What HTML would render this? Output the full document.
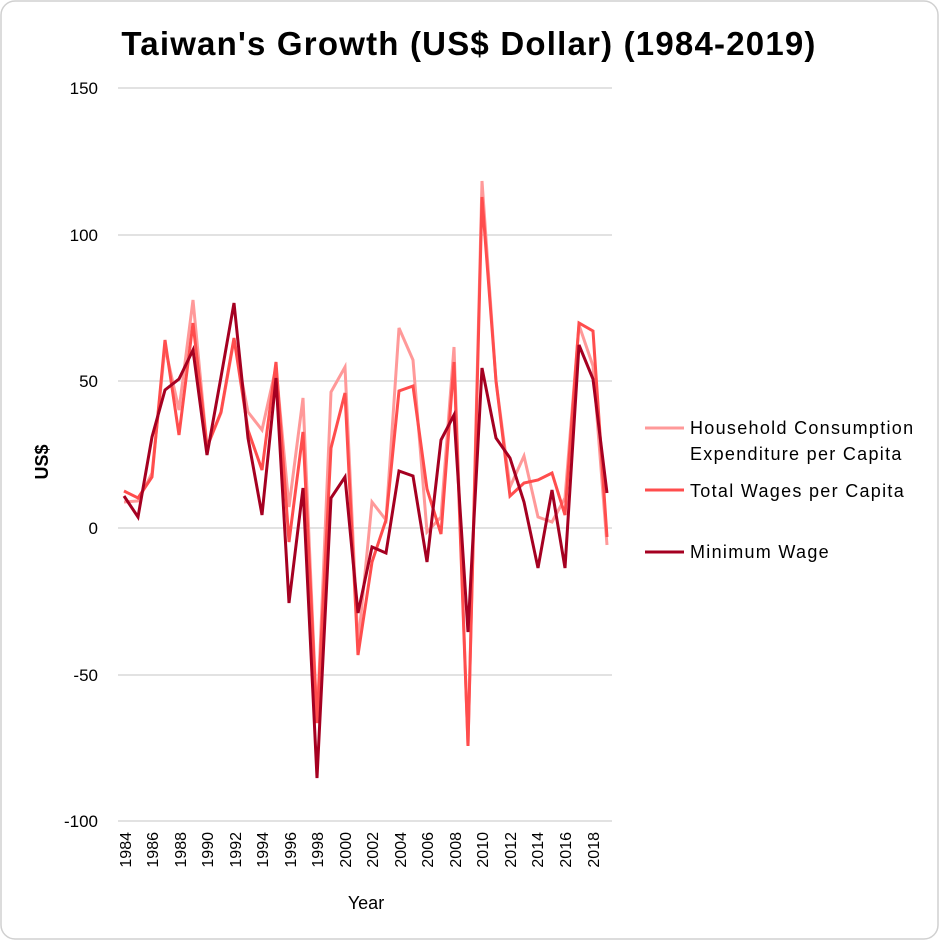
<!DOCTYPE html>
<html><head><meta charset="utf-8"><style>
body{margin:0;background:#fff;}
svg{display:block;font-family:"Liberation Sans",sans-serif;}
</style></head><body>
<svg width="939" height="940" viewBox="0 0 939 940" xmlns="http://www.w3.org/2000/svg">
<rect x="1" y="1" width="937" height="938" rx="14" fill="#fff" stroke="#d0d0d0" stroke-width="1.5"/>
<text x="469" y="55" text-anchor="middle" font-size="33" font-weight="bold" fill="#000" letter-spacing="1.2">Taiwan's Growth (US$ Dollar) (1984-2019)</text>
<g stroke="#d9d9d9" stroke-width="1.5">
<line x1="118" y1="88" x2="612" y2="88"/><line x1="118" y1="235" x2="612" y2="235"/>
<line x1="118" y1="381" x2="612" y2="381"/><line x1="118" y1="528" x2="612" y2="528"/>
<line x1="118" y1="675" x2="612" y2="675"/><line x1="118" y1="821" x2="612" y2="821"/>
</g>
<g font-size="17" text-anchor="end" fill="#000">
<text x="98" y="94">150</text><text x="98" y="241">100</text><text x="98" y="387">50</text>
<text x="98" y="534">0</text><text x="98" y="681">-50</text><text x="98" y="827">-100</text>
</g>
<text transform="translate(48,462) rotate(-90)" font-size="18" font-weight="bold" text-anchor="middle">US$</text>
<text x="366" y="909" font-size="18" text-anchor="middle">Year</text>
<g font-size="16" text-anchor="end">
<text transform="translate(131,832) rotate(-90)">1984</text>
<text transform="translate(158,832) rotate(-90)">1986</text>
<text transform="translate(186,832) rotate(-90)">1988</text>
<text transform="translate(213,832) rotate(-90)">1990</text>
<text transform="translate(241,832) rotate(-90)">1992</text>
<text transform="translate(268,832) rotate(-90)">1994</text>
<text transform="translate(296,832) rotate(-90)">1996</text>
<text transform="translate(323,832) rotate(-90)">1998</text>
<text transform="translate(351,832) rotate(-90)">2000</text>
<text transform="translate(378,832) rotate(-90)">2002</text>
<text transform="translate(406,832) rotate(-90)">2004</text>
<text transform="translate(433,832) rotate(-90)">2006</text>
<text transform="translate(461,832) rotate(-90)">2008</text>
<text transform="translate(488,832) rotate(-90)">2010</text>
<text transform="translate(516,832) rotate(-90)">2012</text>
<text transform="translate(543,832) rotate(-90)">2014</text>
<text transform="translate(571,832) rotate(-90)">2016</text>
<text transform="translate(599,832) rotate(-90)">2018</text>
</g>
<g fill="none" stroke-width="3" stroke-linejoin="miter">
<polyline stroke="#ff9999" points="124,502 138,501 152,473 165,347 179,410 193,300 207,447 221,413 234,340 248,412 262,430 276,367 289,507 303,398 317,723 331,392 345,367 358,645 372,502 386,520 399,328 413,360 427,532 441,517 454,347 468,746 482,181 496,381 510,487 524,456 538,517 552,522 565,498 579,325 593,366 607,545"/>
<polyline stroke="#ff4d4d" points="124,491 138,498 152,477 165,340 179,435 193,323 207,447 221,412 234,338 248,430 262,470 276,362 289,542 303,432 317,723 331,448 345,393 358,655 372,562 386,520 399,391 413,386 427,489 441,534 454,362 468,746 482,197 496,381 510,496 524,483 538,480 552,473 565,515 579,323 593,331 607,537"/>
<polyline stroke="#a50021" points="124,496 138,517 152,437 165,390 179,379 193,350 207,455 221,377 234,303 248,438 262,515 276,378 289,603 303,488 317,778 331,498 345,477 358,613 372,547 386,553 399,471 413,476 427,562 441,440 454,415 468,632 482,368 496,438 510,458 524,502 538,568 552,490 565,568 579,345 593,379 607,493"/>
</g>
<g font-size="18" fill="#000" letter-spacing="1.3">
<line x1="645" y1="428" x2="684" y2="428" stroke="#ff9999" stroke-width="3"/>
<text x="690" y="434">Household Consumption</text>
<text x="690" y="460">Expenditure per Capita</text>
<line x1="645" y1="490" x2="684" y2="490" stroke="#ff4d4d" stroke-width="3"/>
<text x="690" y="497">Total Wages per Capita</text>
<line x1="645" y1="552" x2="684" y2="552" stroke="#a50021" stroke-width="3"/>
<text x="690" y="558">Minimum Wage</text>
</g>
</svg>
</body></html>
